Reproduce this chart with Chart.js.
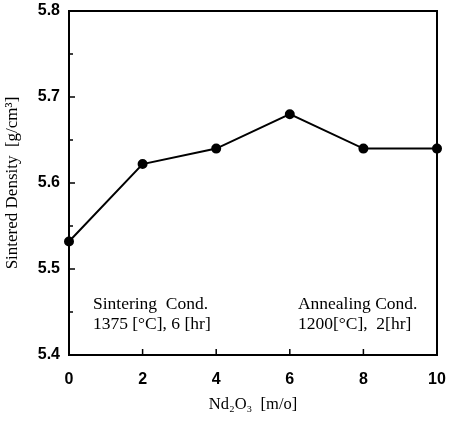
<!DOCTYPE html>
<html><head><meta charset="utf-8">
<script src="https://cdn.jsdelivr.net/npm/chart.js@4"></script>
<style>html,body{margin:0;padding:0;background:#fff}#wrap{width:450px;height:421px}</style>
</head><body><div id="wrap"><canvas id="c" width="450" height="421"></canvas></div>
<script>
const xValues = [0, 2, 4, 6, 8, 10];
const densityValues = [5.532, 5.622, 5.640, 5.680, 5.640, 5.640];
const yTicks = [5.4, 5.5, 5.6, 5.7, 5.8];
const xTicks = [0, 2, 4, 6, 8, 10];
const yMinorTicks = [5.45, 5.55, 5.65, 5.75];
const noteLeft = ["Sintering  Cond.", "1375 [\u00B0C], 6 [hr]"];
const noteRight = ["Annealing Cond.", "1200[\u00B0C],  2[hr]"];

const boxPlugin = {
  id: 'box',
  afterDraw(chart) {
    const {ctx, chartArea: a, scales: {x, y}} = chart;
    ctx.save();
    ctx.strokeStyle = '#000';
    ctx.lineWidth = 2;
    ctx.strokeRect(a.left, a.top, a.right - a.left, a.bottom - a.top);
    ctx.lineWidth = 1.5;
    ctx.beginPath();
    yTicks.forEach(v => { const p = y.getPixelForValue(v); ctx.moveTo(a.left, p); ctx.lineTo(a.left + 6, p); });
    yMinorTicks.forEach(v => { const p = y.getPixelForValue(v); ctx.moveTo(a.left, p); ctx.lineTo(a.left + 4, p); });
    xTicks.forEach(v => { const p = x.getPixelForValue(v); ctx.moveTo(p, a.bottom); ctx.lineTo(p, a.bottom - 6); });
    ctx.stroke();
    ctx.fillStyle = '#000';
    ctx.font = '17.5px "Liberation Serif", "Times New Roman", serif';
    ctx.textAlign = 'left';
    ctx.textBaseline = 'alphabetic';
    ctx.fillText(noteLeft[0], x.getPixelForValue(0.65), y.getPixelForValue(5.453));
    ctx.fillText(noteLeft[1], x.getPixelForValue(0.65), y.getPixelForValue(5.430));
    ctx.fillText(noteRight[0], x.getPixelForValue(6.22), y.getPixelForValue(5.453));
    ctx.fillText(noteRight[1], x.getPixelForValue(6.22), y.getPixelForValue(5.430));
    ctx.restore();
  }
};

function noPad(s) { s.paddingTop = 0; s.paddingBottom = 0; s.paddingLeft = 0; s.paddingRight = 0; }

new Chart(document.getElementById('c'), {
  type: 'scatter',
  data: {
    datasets: [{
      data: xValues.map((v, i) => ({x: v, y: densityValues[i]})),
      showLine: true,
      borderColor: '#000',
      backgroundColor: '#000',
      borderWidth: 2,
      pointRadius: 4,
      pointHoverRadius: 4,
      clip: false
    }]
  },
  options: {
    responsive: false,
    animation: false,
    devicePixelRatio: 1,
    layout: {padding: {top: 11, right: 13, left: 0, bottom: 0}},
    plugins: {legend: {display: false}, tooltip: {enabled: false}},
    scales: {
      x: {
        type: 'linear', min: 0, max: 10,
        afterBuildTicks(s) { s.ticks = xTicks.map(v => ({value: v})); },
        afterFit(s) { s.height = 66; noPad(s); },
        grid: {display: false, drawTicks: false},
        border: {display: false},
        ticks: {color: '#000', padding: 15, maxRotation: 0, font: {family: '"Liberation Sans", Arial, sans-serif', size: 16, weight: 'bold'}},
        title: {display: true, text: 'Nd\u2082O\u2083  [m/o]', color: '#000', padding: {top: 4, bottom: 6}, font: {family: '"Liberation Serif", "Times New Roman", serif', size: 16.5}}
      },
      y: {
        type: 'linear', min: 5.4, max: 5.8,
        afterBuildTicks(s) { s.ticks = yTicks.map(v => ({value: v})); },
        afterFit(s) { s.width = 69; noPad(s); },
        grid: {display: false, drawTicks: false},
        border: {display: false},
        ticks: {color: '#000', padding: 9, callback: v => v.toFixed(1), font: {family: '"Liberation Sans", Arial, sans-serif', size: 16, weight: 'bold'}},
        title: {display: true, text: 'Sintered Density  [g/cm\u00B3]', color: '#000', padding: {top: 2, bottom: 0}, font: {family: '"Liberation Serif", "Times New Roman", serif', size: 17}}
      }
    }
  },
  plugins: [boxPlugin]
});
</script>
</body></html>
